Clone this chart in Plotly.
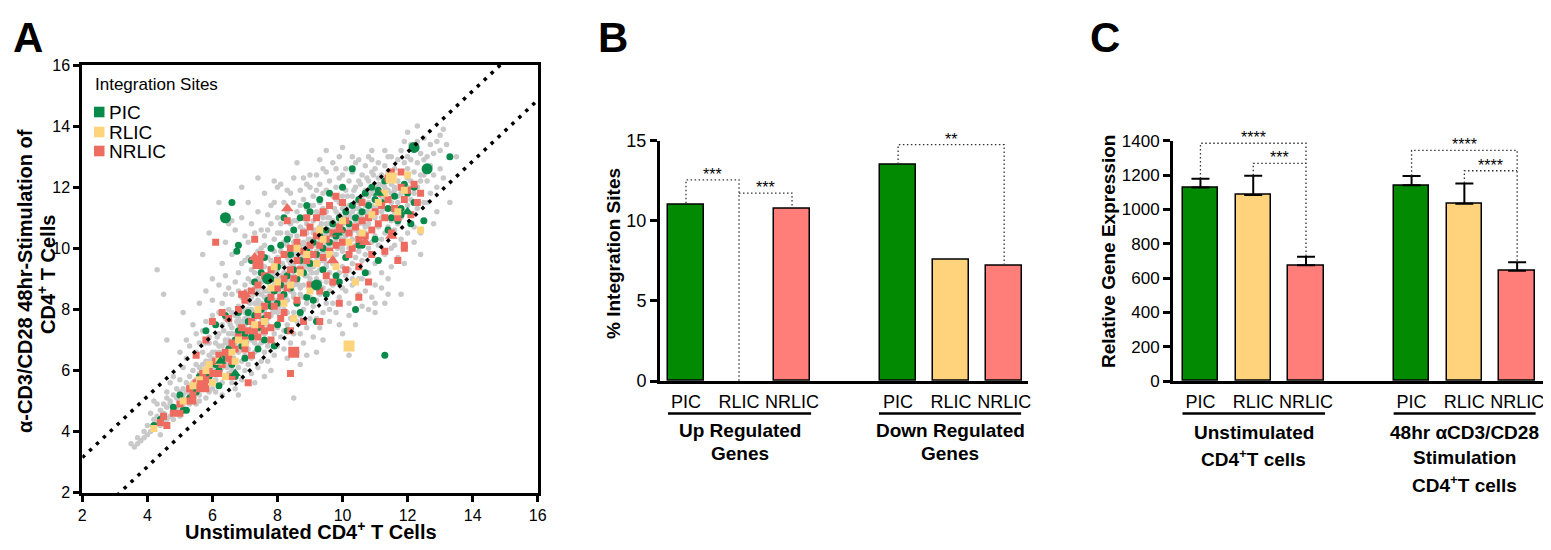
import plotly.graph_objects as go

# page body has an 8px default margin: figure is sized to fit inside the window
PAGE_W, PAGE_H, BODY = 1551, 550, 8
W, H = PAGE_W - 2 * BODY, PAGE_H - 2 * BODY
FONT = "Liberation Sans, Arial, Helvetica, sans-serif"

# ---------------- Panel A data ----------------
gray_points = [
 (3.5,3.6),(3.6,3.5),(3.7,3.8),(3.8,3.7),(3.9,4.0),(3.7,3.6),(3.9,3.8),(4.0,3.9),
 (4.0,4.2),(4.1,4.0),(4.2,4.4),(4.2,4.1),(4.3,4.5),(4.3,4.3),(4.4,4.2),(4.4,4.7),(4.5,4.4),(4.1,4.6),(4.3,4.9),(4.5,4.9),(4.4,3.9),(4.2,5.0),
 (4.3,9.3),(4.5,8.5),(4.6,7.0),
 (4.5,4.6),(4.6,4.4),(4.6,4.8),(4.7,4.5),(4.7,5.0),(4.8,4.7),(4.8,5.2),(4.9,4.8),(4.9,5.4),(5.0,4.9),(4.6,5.3),(4.7,5.6),(4.8,4.4),(4.9,5.1),(5.0,5.3),(4.6,5.1),(4.8,5.8),(5.0,4.5),(4.9,4.6),(4.7,4.9),
 (5.0,5.1),(5.1,4.8),(5.1,5.4),(5.2,5.0),(5.2,5.6),(5.3,5.2),(5.3,5.8),(5.4,5.4),(5.4,6.0),(5.5,5.3),(5.0,5.7),(5.1,6.1),(5.2,6.4),(5.3,4.9),(5.4,5.1),(5.5,5.7),(5.5,6.2),(5.1,5.2),(5.2,5.3),(5.3,5.5),(5.4,5.6),(5.0,6.6),(5.3,6.8),(5.5,4.9),(5.2,7.0),(5.4,7.5),(5.1,7.9),(5.5,6.6),
 (5.5,5.5),(5.6,5.2),(5.6,5.8),(5.7,5.4),(5.7,6.0),(5.8,5.6),(5.8,6.3),(5.9,5.8),(5.9,6.5),(6.0,5.9),(5.6,6.1),(5.7,6.6),(5.8,6.9),(5.9,5.3),(6.0,6.2),(5.6,5.0),(5.7,5.7),(5.8,6.0),(5.9,6.1),(6.0,6.6),(5.6,6.9),(5.7,7.3),(5.8,7.6),(5.9,7.1),(6.0,7.8),(5.5,7.2),(5.8,5.1),(6.0,5.4),(5.9,6.9),(5.6,8.2),(5.8,8.6),(5.9,10.5),(5.7,9.8),(6.0,9.0),
 (6.0,6.0),(6.1,5.7),(6.1,6.3),(6.2,5.9),(6.2,6.6),(6.3,6.1),(6.3,6.8),(6.4,6.3),(6.4,7.0),(6.5,6.5),(6.1,6.9),(6.2,7.2),(6.3,7.5),(6.4,7.7),(6.5,7.2),(6.1,5.3),(6.2,5.5),(6.3,5.6),(6.4,5.8),(6.5,5.9),(6.1,7.5),(6.2,7.9),(6.3,8.2),(6.4,8.5),(6.5,8.0),(6.0,8.3),(6.2,8.8),(6.4,9.1),(6.5,8.7),(6.3,9.5),(6.1,6.6),(6.3,6.4),(6.5,6.8),(6.2,6.2),(6.4,6.6),(6.5,7.6),(6.2,11.5),(6.4,10.2),(6.5,10.8),(6.3,5.2),
 (6.5,6.2),(6.6,6.0),(6.6,6.6),(6.7,6.3),(6.7,7.0),(6.8,6.6),(6.8,7.3),(6.9,6.9),(6.9,7.6),(7.0,7.1),(6.6,7.4),(6.7,7.8),(6.8,8.1),(6.9,8.4),(7.0,7.9),(6.6,5.6),(6.7,5.9),(6.8,6.1),(6.9,6.3),(7.0,6.5),(6.6,8.5),(6.7,8.9),(6.8,9.2),(6.9,9.5),(7.0,8.8),(6.6,9.8),(6.8,10.1),(7.0,10.4),(6.7,10.6),(6.9,11.0),(6.6,6.9),(6.7,7.2),(6.8,7.7),(6.9,7.1),(7.0,7.5),(6.6,7.9),(6.8,8.6),(7.0,8.3),(6.7,5.4),(6.9,5.7),(7.0,6.0),(6.8,5.2),(7.0,9.6),(6.6,10.9),(6.9,12.0),
 (7.0,7.0),(7.1,6.7),(7.1,7.3),(7.2,7.0),(7.2,7.7),(7.3,7.2),(7.3,7.9),(7.4,7.5),(7.4,8.2),(7.5,7.7),(7.1,8.0),(7.2,8.4),(7.3,8.7),(7.4,9.0),(7.5,8.5),(7.1,6.2),(7.2,6.4),(7.3,6.6),(7.4,6.8),(7.5,6.9),(7.1,9.0),(7.2,9.3),(7.3,9.6),(7.4,9.9),(7.5,9.3),(7.1,10.2),(7.3,10.5),(7.5,10.0),(7.2,10.8),(7.4,11.2),(7.1,7.6),(7.2,7.4),(7.3,8.2),(7.4,7.8),(7.5,8.1),(7.1,8.6),(7.3,9.2),(7.5,8.9),(7.2,5.9),(7.4,6.1),(7.5,6.3),(7.3,5.6),(7.5,10.6),(7.1,11.5),(7.4,12.3),(7.2,8.9),(7.4,8.6),(7.5,7.3),(7.3,6.9),(7.1,9.7),
 (7.5,7.5),(7.6,7.2),(7.6,7.9),(7.7,7.5),(7.7,8.2),(7.8,7.8),(7.8,8.5),(7.9,8.0),(7.9,8.8),(8.0,8.3),(7.6,8.6),(7.7,8.9),(7.8,9.2),(7.9,9.5),(8.0,9.0),(7.6,6.6),(7.7,6.8),(7.8,7.0),(7.9,7.2),(8.0,7.4),(7.6,9.4),(7.7,9.7),(7.8,10.0),(7.9,10.3),(8.0,9.7),(7.6,10.4),(7.8,10.8),(8.0,10.5),(7.7,11.1),(7.9,11.5),(7.6,8.0),(7.7,7.7),(7.8,8.7),(7.9,8.3),(8.0,8.6),(7.6,9.0),(7.8,9.6),(8.0,9.3),(7.7,6.3),(7.9,6.5),(8.0,6.8),(7.8,6.0),(8.0,11.0),(7.6,11.8),(7.9,12.2),(7.7,8.4),(7.9,9.1),(8.0,7.9),(7.8,7.4),(7.6,10.1),(7.7,10.6),(7.9,9.9),(8.0,12.0),(7.8,11.4),(7.6,5.8),
 (8.0,8.0),(8.1,7.7),(8.1,8.4),(8.2,8.0),(8.2,8.7),(8.3,8.3),(8.3,9.0),(8.4,8.6),(8.4,9.3),(8.5,8.8),(8.1,9.1),(8.2,9.4),(8.3,9.7),(8.4,10.0),(8.5,9.5),(8.1,7.1),(8.2,7.3),(8.3,7.5),(8.4,7.7),(8.5,7.9),(8.1,9.9),(8.2,10.2),(8.3,10.5),(8.4,10.8),(8.5,10.2),(8.1,10.8),(8.3,11.2),(8.5,10.9),(8.2,11.5),(8.4,11.8),(8.1,8.5),(8.2,8.2),(8.3,9.2),(8.4,8.9),(8.5,9.1),(8.1,9.5),(8.3,10.1),(8.5,9.8),(8.2,6.7),(8.4,6.9),(8.5,7.2),(8.3,6.4),(8.5,11.5),(8.1,12.1),(8.6,12.8),(8.2,8.9),(8.4,9.6),(8.5,8.4),(8.3,7.9),(8.1,10.5),(8.2,11.0),(8.4,10.4),(8.5,12.3),(8.3,11.9),(8.5,5.1),
 (8.5,8.5),(8.6,8.2),(8.6,8.9),(8.7,8.5),(8.7,9.2),(8.8,8.8),(8.8,9.5),(8.9,9.1),(8.9,9.8),(9.0,9.3),(8.6,9.6),(8.7,9.9),(8.8,10.2),(8.9,10.5),(9.0,10.0),(8.6,7.6),(8.7,7.8),(8.8,8.0),(8.9,8.2),(9.0,8.4),(8.6,10.4),(8.7,10.7),(8.8,11.0),(8.9,11.3),(9.0,10.7),(8.6,11.2),(8.8,11.6),(9.0,11.4),(8.7,11.9),(8.9,12.1),(8.6,9.0),(8.7,8.7),(8.8,9.7),(8.9,9.4),(9.0,9.6),(8.6,10.0),(8.8,10.6),(9.0,10.3),(8.7,7.2),(8.9,7.4),(9.0,7.7),(8.8,6.9),(9.0,12.0),(8.6,6.6),(8.9,6.5),(8.7,9.4),(8.9,10.1),(9.0,8.9),(8.8,8.4),(8.6,10.9),(8.7,11.4),(8.9,10.8),(9.0,12.4),(8.8,12.3),(8.7,6.2),
 (9.0,9.0),(9.1,8.7),(9.1,9.4),(9.2,9.0),(9.2,9.7),(9.3,9.3),(9.3,10.0),(9.4,9.6),(9.4,10.3),(9.5,9.8),(9.1,10.1),(9.2,10.4),(9.3,10.7),(9.4,11.0),(9.5,10.5),(9.1,8.1),(9.2,8.3),(9.3,8.5),(9.4,8.7),(9.5,8.9),(9.1,10.9),(9.2,11.2),(9.3,11.5),(9.4,11.8),(9.5,11.2),(9.1,11.7),(9.3,12.1),(9.5,11.9),(9.2,12.4),(9.4,12.6),(9.1,9.5),(9.2,9.2),(9.3,10.2),(9.4,9.9),(9.5,10.1),(9.1,10.5),(9.3,11.1),(9.5,10.8),(9.2,7.7),(9.4,7.9),(9.5,8.2),(9.3,7.4),(9.5,12.5),(9.1,7.1),(9.4,7.0),(9.2,9.9),(9.4,10.6),(9.5,9.4),(9.3,8.9),(9.1,11.4),(9.2,11.9),(9.4,11.3),(9.5,13.2),(9.3,12.9),(9.2,6.6),
 (9.5,9.5),(9.6,9.2),(9.6,9.9),(9.7,9.5),(9.7,10.2),(9.8,9.8),(9.8,10.5),(9.9,10.1),(9.9,10.8),(10.0,10.3),(9.6,10.6),(9.7,10.9),(9.8,11.2),(9.9,11.5),(10.0,11.0),(9.6,8.6),(9.7,8.8),(9.8,9.0),(9.9,9.2),(10.0,9.4),(9.6,11.4),(9.7,11.7),(9.8,12.0),(9.9,12.3),(10.0,11.7),(9.6,12.2),(9.8,12.6),(10.0,12.4),(9.7,12.8),(9.9,13.0),(9.6,10.0),(9.7,9.7),(9.8,10.7),(9.9,10.4),(10.0,10.6),(9.6,11.0),(9.8,11.6),(10.0,11.3),(9.7,8.2),(9.9,8.4),(10.0,8.7),(9.8,7.9),(9.6,7.6),(9.9,7.5),(9.7,10.4),(9.9,11.1),(10.0,9.9),(9.8,9.4),(9.6,8.0),(10.0,7.2),
 (10.0,10.0),(10.1,9.7),(10.1,10.4),(10.2,10.0),(10.2,10.7),(10.3,10.3),(10.3,11.0),(10.4,10.6),(10.4,11.3),(10.5,10.8),(10.1,11.1),(10.2,11.4),(10.3,11.7),(10.4,12.0),(10.5,11.5),(10.1,9.1),(10.2,9.3),(10.3,9.5),(10.4,9.7),(10.5,9.9),(10.1,11.9),(10.2,12.2),(10.3,12.5),(10.4,12.8),(10.5,12.2),(10.1,8.6),(10.3,8.8),(10.5,9.0),(10.2,8.2),(10.4,8.0),(10.1,10.5),(10.2,10.2),(10.3,11.2),(10.4,10.9),(10.5,11.1),(10.1,12.6),(10.3,13.0),(10.5,12.9),(10.2,7.8),(10.4,7.5),(10.0,13.3),(10.3,9.0),(10.5,8.5),(10.2,6.5),(10.4,10.1),
 (10.5,10.5),(10.6,10.2),(10.6,10.9),(10.7,10.5),(10.7,11.2),(10.8,10.8),(10.8,11.5),(10.9,11.1),(10.9,11.8),(11.0,11.3),(10.6,11.6),(10.7,11.9),(10.8,12.2),(10.9,12.5),(11.0,12.0),(10.6,9.6),(10.7,9.8),(10.8,10.0),(10.9,10.2),(11.0,10.4),(10.6,12.4),(10.7,12.7),(10.8,13.0),(10.9,12.9),(11.0,12.6),(10.6,9.0),(10.8,9.2),(11.0,9.5),(10.7,8.6),(10.9,8.4),(10.6,11.0),(10.7,10.7),(10.8,11.7),(10.9,11.4),(11.0,11.6),(10.6,8.1),(10.8,8.0),(11.0,8.8),(10.9,13.2),(11.0,8.2),
 (11.0,11.0),(11.1,10.7),(11.1,11.4),(11.2,11.0),(11.2,11.7),(11.3,11.3),(11.3,12.0),(11.4,11.6),(11.4,12.3),(11.5,11.8),(11.1,12.1),(11.2,12.4),(11.3,12.7),(11.4,13.0),(11.5,12.5),(11.1,10.1),(11.2,10.3),(11.3,10.5),(11.4,10.7),(11.5,10.9),(11.1,9.6),(11.3,9.8),(11.5,10.0),(11.2,9.2),(11.4,9.0),(11.1,11.9),(11.2,11.2),(11.3,12.2),(11.4,11.9),(11.5,12.1),(11.1,12.8),(11.3,13.2),(11.5,13.0),(11.2,8.7),(11.4,8.5),(11.5,9.4),(11.3,8.2),(11.0,7.9),
 (11.5,11.5),(11.6,11.2),(11.6,11.9),(11.7,11.5),(11.7,12.2),(11.8,11.8),(11.8,12.5),(11.9,12.1),(11.9,12.8),(12.0,12.3),(11.6,12.6),(11.7,12.9),(11.8,13.2),(11.9,13.5),(12.0,13.0),(11.6,10.6),(11.7,10.8),(11.8,11.0),(11.9,11.2),(12.0,11.4),(11.6,10.1),(11.8,10.3),(12.0,10.5),(11.7,9.7),(11.9,9.5),(11.6,12.0),(11.7,11.7),(11.8,12.0),(12.0,12.0),(11.9,11.6),(11.8,8.5),(12.0,13.8),
 (12.0,12.6),(12.1,12.2),(12.1,12.9),(12.2,12.5),(12.2,13.2),(12.3,12.8),(12.3,13.5),(12.4,13.1),(12.4,12.4),(12.5,12.9),(12.1,11.6),(12.2,11.8),(12.3,12.0),(12.4,12.2),(12.5,12.4),(12.1,11.1),(12.3,11.3),(12.5,11.5),(12.2,10.7),(12.4,10.5),(12.1,13.4),(12.3,14.0),(12.5,13.6),(12.2,10.2),(12.4,9.8),
 (12.6,13.0),(12.7,12.7),(12.7,13.4),(12.8,13.1),(12.9,13.5),(13.0,13.2),(12.6,12.2),(12.8,12.4),(13.0,12.6),(12.7,11.8),(12.9,12.0),(12.6,11.5),(12.8,10.8),(13.0,13.7),(13.1,13.9),(13.2,13.4),(13.3,11.5),(12.9,11.2),(13.1,12.3),(13.5,13.0),
]
gray_core = [
 (5.6,5.9),(5.7,6.2),(5.8,5.9),(5.9,6.3),(6.0,6.4),(6.1,6.0),(6.2,6.8),(6.3,6.6),(6.4,6.9),(6.5,7.0),(6.6,7.2),(6.7,6.9),(6.8,7.5),(6.9,7.3),(7.0,7.7),(7.1,7.8),(7.2,8.0),(7.3,7.7),(7.4,8.3),(7.5,8.2),(7.6,8.4),(7.7,8.6),(7.8,8.2),(7.9,8.9),(8.0,8.8),(8.1,9.0),(8.2,9.2),(8.3,8.9),(8.4,9.5),(8.5,9.4),(8.6,9.8),(8.7,9.7),(8.8,9.3),(8.9,10.0),(9.0,9.9),(9.1,10.3),(9.2,10.1),(9.3,9.8),(9.4,10.5),(9.5,10.4),(9.6,10.8),(9.7,10.6),(9.8,10.3),(9.9,10.9),(10.0,10.8),(10.1,11.3),(10.2,11.1),(10.3,10.7),(10.4,11.5),(10.5,11.3),(10.6,11.7),(10.7,11.4),(10.8,11.2),(10.9,11.9),(11.0,11.8),(11.1,12.3),(11.2,12.1),(11.3,11.6),(11.4,12.5),(11.5,12.3),
 (6.15,7.1),(6.35,7.3),(6.55,7.5),(6.75,7.6),(6.95,8.0),(7.15,8.2),(7.35,8.5),(7.55,8.7),(7.75,9.0),(7.95,9.2),(8.15,9.5),(8.35,9.6),(8.55,9.9),(8.75,10.1),(8.95,10.3),(9.15,10.6),(9.35,10.8),(9.55,11.0),(9.75,11.3),(9.95,11.5),(10.15,11.7),(10.35,11.9),(10.55,12.1),(10.75,12.3),(10.95,12.4),
 (6.45,6.1),(6.65,6.4),(6.85,6.7),(7.05,6.9),(7.25,7.1),(7.45,7.4),(7.65,7.6),(7.85,7.9),(8.05,8.1),(8.25,8.4),(8.45,8.6),(8.65,8.8),(8.85,9.1),(9.05,9.2),(9.25,9.5),(9.45,9.7),(9.65,9.9),(9.85,10.0),(10.05,10.2),(10.25,10.5),(10.45,10.6),(10.65,10.8),(10.85,11.0),(11.05,11.2),(11.25,11.5),
]

pic_points = [
 (4.2,4.2),(4.5,4.5),(4.8,4.8),(5.0,5.2),(5.1,4.7),(5.3,5.1),(5.5,5.3),(5.7,5.6),(5.9,5.8),(6.1,6.2),(6.2,6.0),(6.3,6.4),(6.5,6.7),(6.6,6.2),(6.7,7.0),(6.8,7.3),(6.9,6.8),(7.0,7.2),(7.1,7.6),(7.2,7.1),(7.3,7.8),(7.4,7.4),(7.5,8.0),(7.6,7.7),(7.7,8.3),(7.8,8.1),(7.9,8.6),(8.0,8.2),(8.1,8.8),(8.2,8.5),(8.3,9.1),(8.4,8.7),(8.5,9.3),(8.6,9.0),(8.7,9.6),(8.8,9.2),(8.9,9.9),(9.0,9.5),(9.1,10.2),(9.2,9.8),(9.3,10.4),(9.4,10.0),(9.5,10.6),(9.6,10.2),(9.7,10.8),(9.8,10.4),(9.9,11.0),(10.0,10.6),(10.1,11.2),(10.2,10.8),(10.3,11.4),(10.4,11.0),(10.5,11.6),(10.6,11.2),(10.7,11.8),(10.8,11.4),(10.9,12.0),(11.0,11.6),(11.1,11.9),(11.2,11.5),(11.3,12.2),(11.4,11.3),(11.5,11.0),(11.6,11.7),(11.7,10.9),(11.8,11.1),(11.9,12.1),(12.0,11.8),(12.1,10.8),(12.2,11.5),(12.5,10.9),(13.3,13.0),(12.2,12.0),
 (6.6,11.5),(6.8,10.1),(6.75,9.9),(7.2,9.6),(7.6,9.7),(7.8,10.0),(8.1,10.1),(8.3,10.3),(8.5,10.6),(8.7,11.0),(8.9,11.4),(9.0,11.2),(9.3,11.6),(8.2,11.0),(9.6,11.8),(10.0,12.0),(10.3,12.6),(6.1,7.5),(5.8,7.3),(6.4,7.8),(6.8,7.9),(7.0,8.4),(7.3,8.9),(7.5,9.2),(7.8,9.0),(8.0,9.4),(8.4,9.8),(6.2,5.5),(6.7,5.8),(7.0,6.4),(7.4,6.7),(7.9,6.8),(8.3,7.3),(8.7,7.9),(9.1,8.3),(9.5,8.5),(9.9,8.9),(10.4,8.0),(10.7,9.2),(11.1,9.6),(11.3,6.5),(9.2,7.6),(8.9,8.4),(9.8,9.1),(10.1,9.7),(10.6,10.1),(11.0,10.3),(11.4,10.6),(11.8,11.3),(8.6,8.2),(8.0,7.5),(7.6,7.0),(5.2,4.7),(4.4,4.4),(5.6,5.8),(7.1,7.9),(9.4,9.3),(10.5,10.1),
]
pic_big = [(6.4,11.0),(12.2,13.3),(12.6,12.6),(7.7,9.0),(9.2,8.8)]
pic_tri = [(6.7,5.9),(11.1,11.8),(12.0,11.2),(6.25,6.3),(9.85,10.5)]

nrlic_points = [
 (4.4,4.3),(4.6,4.2),(4.8,4.6),(5.0,4.9),(5.2,5.0),(5.3,5.4),(5.4,5.2),(5.5,5.6),(5.6,5.4),(5.7,5.9),(5.8,5.7),(5.9,6.1),(6.0,5.9),(6.1,6.3),(6.2,6.5),(6.3,6.2),(6.4,6.6),(6.5,6.4),(6.6,6.9),(6.7,6.7),(6.8,7.1),(6.9,7.4),(7.0,7.0),(7.1,7.3),(7.2,7.6),(7.3,7.3),(7.4,7.8),(7.5,7.5),(7.6,8.1),(7.7,7.8),(7.8,8.4),(7.9,8.1),(8.0,8.7),(8.1,8.4),(8.2,9.0),(8.3,8.7),(8.4,9.3),(8.5,9.0),(8.6,9.6),(8.7,9.3),(8.8,9.9),(8.9,9.6),(9.0,10.1),(9.1,9.8),(9.2,10.4),(9.3,10.1),(9.4,9.7),(9.5,10.3),(9.6,9.9),(9.7,10.5),(9.8,10.1),(9.9,10.7),(10.0,10.2),(10.1,10.9),(10.2,10.5),(10.3,10.0),(10.4,10.7),(10.5,10.3),(10.6,10.9),(10.7,10.4),(10.8,11.0),(10.9,10.6),(11.0,11.2),(11.1,10.8),(11.2,11.4),(11.3,11.0),(11.4,11.6),(11.5,10.5),(11.6,11.3),(11.7,11.0),(11.8,12.0),(11.9,11.6),(12.0,11.9),(12.1,11.1),(12.2,12.1),(11.5,12.5),(11.9,10.0),(11.7,9.6),(11.3,9.9),(10.9,9.8),(10.5,9.4),(10.1,9.3),(9.7,8.9),(9.3,8.6),(9.0,8.8),(8.6,8.3),(8.2,7.9),(7.8,7.4),(7.4,7.1),(7.0,6.7),(6.6,6.3),(6.2,5.9),(5.8,5.4),(5.4,5.0),(5.0,4.6),(4.5,4.5),
 (6.0,7.6),(6.3,7.9),(6.5,7.7),(6.8,8.0),(7.0,8.3),(7.2,8.6),(7.4,8.8),(7.6,9.1),(7.8,9.3),(8.0,9.6),(8.2,9.8),(8.4,10.0),(8.6,10.2),(8.8,10.5),(9.0,10.7),(9.2,11.0),(9.4,11.2),(9.6,11.4),(9.8,11.7),(10.0,11.5),(8.9,11.0),(8.3,10.9),(7.3,10.3),(6.1,10.2),(5.8,7.0),(5.5,6.5),(6.6,5.8),(7.2,6.5),(7.8,7.0),(8.4,7.3),(8.8,7.6),(9.3,7.6),(9.9,8.2),(10.5,8.4),(8.4,5.9),(7.1,5.6),(10.8,8.9),(11.9,10.1),(9.5,9.1),(8.1,7.7),(7.6,7.3),(10.2,9.8),(10.6,11.5),(11.2,11.8),(11.4,12.3),(12.3,11.5),(12.4,11.8),(11.8,12.5),(7.5,9.8),(6.9,8.5),
]
nrlic_big = [(8.5,6.6),(7.4,9.5),(5.7,5.5)]
nrlic_tri = [(7.3,9.7),(7.0,8.5),(8.3,11.3),(9.9,10.6),(11.5,10.4),(9.7,9.6),(10.7,10.2)]

rlic_points = [
 (4.2,4.1),(5.1,5.0),(5.4,5.5),(5.6,5.7),(5.8,6.0),(6.0,5.6),(6.2,6.3),(6.4,5.8),(6.6,6.6),(6.8,7.0),(7.0,6.9),(7.3,7.5),(7.6,7.6),(7.8,8.7),(8.0,8.9),(8.2,8.2),(8.4,8.8),(8.5,7.7),(8.7,9.2),(8.9,9.8),(9.0,8.6),(9.2,9.5),(9.4,10.3),(9.6,9.8),(9.8,9.4),(10.0,10.9),(10.2,10.2),(10.4,8.9),(10.6,10.5),(10.9,11.1),(11.1,11.5),(11.3,11.8),(11.7,11.2),(12.0,12.4),(12.4,10.6),(7.9,9.4),(8.6,10.0),(9.3,10.6),(6.7,6.3),(7.4,8.0),(5.9,6.2),(11.9,11.9),
]
rlic_big = [(11.5,12.3),(10.2,6.8)]

band_offset = 1.15          # dotted guide lines y = x +/- offset
a_range = [2, 16]
a_ticks = [2, 4, 6, 8, 10, 12, 14, 16]

# ---------------- Panel B data ----------------
b_cats = ["PIC", "RLIC", "NRLIC", "PIC", "RLIC", "NRLIC"]
b_pos = [0, 1, 2, 4, 5, 6]
b_vals = [11.0, 0.0, 10.73, 13.48, 7.55, 7.21]

# ---------------- Panel C data ----------------
c_cats = ["PIC", "RLIC", "NRLIC", "PIC", "RLIC", "NRLIC"]
c_pos = [0, 1, 2, 4, 5, 6]
c_vals = [1128, 1084, 674, 1140, 1033, 643]
c_err = [50, 112, 50, 54, 118, 49]

BAR_COLORS = ["#038A03", "#FFD37C", "#FF7E7A"] * 2
C_PIC, C_RLIC, C_NRLIC, C_GRAY = "#078A4A", "#FDD47C", "#EE6B5F", "#C9C9C9"


def px(x):
    return min(1.0, max(0.0, (x - BODY) / W))


def py(y):
    return min(1.0, max(0.0, 1 - (y - BODY) / H))


fig = go.Figure()

def xy(pts):
    return [p[0] for p in pts], [p[1] for p in pts]

for pts in (gray_points, gray_core):
    gx, gy = xy(pts)
    fig.add_trace(go.Scatter(x=gx, y=gy, mode="markers", marker=dict(size=5.5, color=C_GRAY),
                             xaxis="x", yaxis="y", showlegend=False))
for pts, col, sym, size in [
    (pic_points, C_PIC, "circle", 7), (nrlic_points, C_NRLIC, "square", 7), (rlic_points, C_RLIC, "square", 7),
    (pic_big, C_PIC, "circle", 11), (pic_tri, C_PIC, "triangle-up", 10),
    (nrlic_big, C_NRLIC, "square", 11), (nrlic_tri, C_NRLIC, "triangle-up", 11),
    (rlic_big, C_RLIC, "square", 11),
]:
    xs, ys = xy(pts)
    fig.add_trace(go.Scatter(x=xs, y=ys, mode="markers", marker=dict(size=size, color=col, symbol=sym, line=dict(width=0)),
                             xaxis="x", yaxis="y", showlegend=False))

for off in (band_offset, -band_offset):
    fig.add_trace(go.Scatter(x=a_range, y=[a_range[0] + off, a_range[1] + off], mode="lines",
                             line=dict(color="black", width=3.5, dash="3.5px,6px"), xaxis="x", yaxis="y", showlegend=False))

b_line_w = [0 if v == 0 else 1.5 for v in b_vals]
fig.add_trace(go.Bar(x=b_pos, y=b_vals, width=0.67, marker=dict(color=BAR_COLORS, line=dict(color="black", width=b_line_w)),
                     xaxis="x2", yaxis="y2", showlegend=False))
fig.add_trace(go.Bar(x=c_pos, y=c_vals, width=0.67, marker=dict(color=BAR_COLORS, line=dict(color="black", width=1.5)),
                     error_y=dict(type="data", array=c_err, arrayminus=[0] * 6, symmetric=False, color="black", thickness=2, width=9),
                     xaxis="x3", yaxis="y3", showlegend=False))

axis_common = dict(showgrid=False, zeroline=False, showline=True, linecolor="black", linewidth=3,
                   ticks="outside", tickcolor="black", tickwidth=3, color="black", ticklabeloverflow="allow")
cat_axis = dict(ticks="outside", ticklen=2, tickcolor="rgba(0,0,0,0)", tickfont=dict(size=18),
                showgrid=False, zeroline=False, showline=True, linecolor="black", linewidth=3,
                ticklabeloverflow="allow")

fig.update_layout(
    width=W, height=H, margin=dict(l=0, r=0, t=0, b=0, pad=0, autoexpand=False),
    paper_bgcolor="white", plot_bgcolor="white",
    font=dict(family=FONT, color="black"),
    bargap=0,
    xaxis=dict(domain=[px(82.3), px(537.7)], range=a_range, tickvals=a_ticks, ticklen=6, mirror=True,
               tickfont=dict(size=16), anchor="y", **axis_common),
    yaxis=dict(domain=[py(492.7), py(65)], range=a_range, tickvals=a_ticks, ticklen=6, mirror=True,
               tickfont=dict(size=16), anchor="x", **axis_common),
    xaxis2=dict(domain=[px(660), px(1028)], range=[-0.49, 6.45], tickvals=b_pos, ticktext=b_cats,
                anchor="y2", **cat_axis),
    yaxis2=dict(domain=[py(381), py(140.7)], range=[0, 15], tickvals=[0, 5, 10, 15], ticklen=7,
                tickfont=dict(size=18), anchor="x2", **axis_common),
    xaxis3=dict(domain=[px(1173), px(1543.3)], range=[-0.52, 6.49], tickvals=c_pos, ticktext=c_cats,
                anchor="y3", **cat_axis),
    yaxis3=dict(domain=[py(381), py(140.7)], range=[0, 1400], tickvals=list(range(0, 1401, 200)), ticklen=7,
                tickfont=dict(size=17), anchor="x3", **axis_common),
)

shapes = []
ann = []


def text(x, y, s, size, xanchor="center", angle=0, xref="paper"):
    ann.append(dict(x=x, y=y, xref=xref, yref="paper", text=s, showarrow=False, xanchor=xanchor,
                    yanchor="middle", textangle=angle, font=dict(size=size)))


text(px(93), py(84), "Integration Sites", 17, xanchor="left")
for lab, col, cy in [("PIC", C_PIC, 112), ("RLIC", C_RLIC, 132), ("NRLIC", C_NRLIC, 151)]:
    shapes.append(dict(type="rect", xref="paper", yref="paper", x0=px(94), x1=px(104.5), y0=py(cy + 5.3), y1=py(cy - 5.3),
                       fillcolor=col, line=dict(width=0)))
    text(px(107), py(cy), lab, 19, xanchor="left")

text(px(311), py(530.5), "<b>Unstimulated CD4<sup>+</sup> T Cells</b>", 20)
text(px(25), py(281), "<b>\u03b1-CD3/CD28 48hr-Stimulation of</b>", 20, angle=-90)
text(px(46), py(275), "<b>CD4<sup>+</sup> T Cells</b>", 20, angle=-90)
text(px(613), py(254), "<b>% Integration Sites</b>", 19, angle=-90)
text(px(1108), py(252), "<b>Relative Gene Expression</b>", 19, angle=-90)

for letter, cx in [("A", 28), ("B", 613), ("C", 1105)]:
    text(px(cx), py(37), f"<b>{letter}</b>", 42)

for xr, spans, labels in [
    ("x2", [(-0.34, 2.36), (3.64, 6.32)], [[("Up Regulated", 430), ("Genes", 453)], [("Down Regulated", 430), ("Genes", 453)]]),
    ("x3", [(-0.34, 2.36), (3.66, 6.35)], [[("Unstimulated", 432), ("CD4<sup>+</sup>T cells", 458)],
                                          [("48hr \u03b1CD3/CD28", 432), ("Stimulation", 457), ("CD4<sup>+</sup>T cells", 484)]]),
]:
    for (x0, x1), lines in zip(spans, labels):
        shapes.append(dict(type="line", xref=xr, yref="paper", x0=x0, x1=x1, y0=py(413.5), y1=py(413.5),
                           line=dict(color="black", width=2.5)))
        for txt, yy in lines:
            text((x0 + x1) / 2, py(yy), f"<b>{txt}</b>", 19, xref=xr)

dot_line = dict(color="#333333", width=1.3, dash="1.5px,2.5px")
brackets = [
    ("x2", "y2", [(0, 11.1), (0, 12.56), (1, 12.56), (1, 0)]),
    ("x2", "y2", [(1, 11.73), (2, 11.73), (2, 10.83)]),
    ("x2", "y2", [(4, 13.55), (4, 14.75), (6, 14.75), (6, 7.3)]),
    ("x3", "y3", [(0, 1180), (0, 1385), (2, 1385), (2, 726)]),
    ("x3", "y3", [(1, 1198), (1, 1268), (2, 1268)]),
    ("x3", "y3", [(4, 1196), (4, 1344), (6, 1344), (6, 694)]),
    ("x3", "y3", [(5, 1153), (5, 1225), (6, 1225)]),
]
for xr, yr, pts in brackets:
    path = "M " + " L ".join(f"{a},{b}" for a, b in pts)
    shapes.append(dict(type="path", xref=xr, yref=yr, path=path, line=dot_line))

stars = [
    ("x2", "y2", 0.5, 12.56, "***"), ("x2", "y2", 1.5, 11.73, "***"), ("x2", "y2", 5, 14.75, "**"),
    ("x3", "y3", 1, 1385, "****"), ("x3", "y3", 1.5, 1268, "***"),
    ("x3", "y3", 5, 1344, "****"), ("x3", "y3", 5.5, 1225, "****"),
]
for xr, yr, sx, sy, s in stars:
    ann.append(dict(x=sx, y=sy, xref=xr, yref=yr, text=s, showarrow=False, xanchor="center", yanchor="bottom",
                    yshift=-5, font=dict(size=16)))

fig.update_layout(shapes=shapes, annotations=ann)
fig.write_html("out.html")
